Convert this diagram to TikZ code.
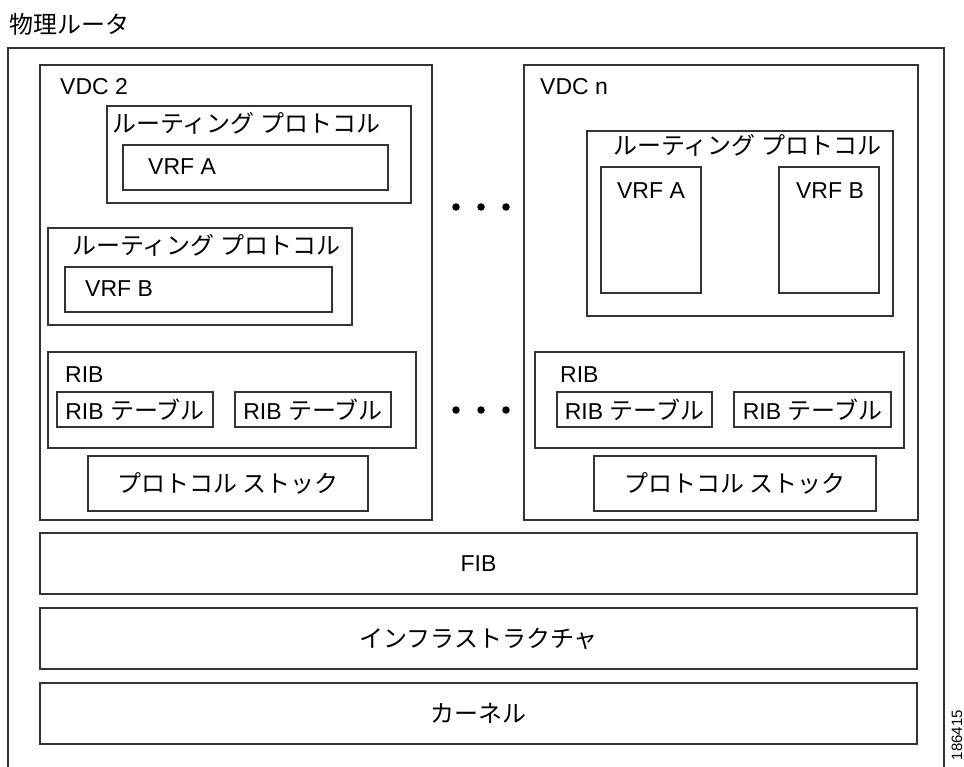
\documentclass[tikz,border=0pt]{standalone}
\usepackage{fontspec}
\setmainfont{Liberation Sans}
\newfontfamily\jpfam{Noto Sans CJK JP}
\newcommand\jp{\jpfam\fontsize{24}{28}\selectfont}
\usetikzlibrary{fit}
\begin{document}
\begin{tikzpicture}[x=1pt,y=-1pt,
  box/.style={draw=black!80, line width=1.1pt, inner sep=0pt, rectangle},
  lbl/.style={inner sep=0pt, font=\fontsize{23}{27}\selectfont},
  dot/.style={circle, fill=black, inner sep=0pt, minimum size=7.5pt}]
\useasboundingbox (0,0) rectangle (964,767);
\clip (0,0) rectangle (964,767);
\fill[white] (0,0) rectangle (964,767);
% title
\node[lbl, anchor=base west] (title) at (9,34) {\jp 物理ルータ};
% outer frame
\node[box, fit={(8,48) (944,790)}] (outer) {};
% VDC 2
\node[box, fit={(40,65) (432,520)}] (vdc2) {};
\node[lbl, anchor=base west] (vdc2l) at (60,95) {VDC 2};
\node[box, fit={(107,106) (411,203)}] (rp1) {};
\node[lbl, anchor=base west] (rp1l) at (112,133) {\jp ルーティング プロトコル};
\node[box, fit={(123,145) (388,190)}] (vrfa1) {};
\node[lbl, anchor=base west] (vrfa1l) at (148,175) {VRF A};
\node[box, fit={(48,228) (352,325)}] (rp2) {};
\node[lbl, anchor=base west] (rp2l) at (72,255) {\jp ルーティング プロトコル};
\node[box, fit={(65,267) (332,312)}] (vrfb1) {};
\node[lbl, anchor=base west] (vrfb1l) at (85,297) {VRF B};
\node[box, fit={(48,352) (416,448)}] (rib1) {};
\node[lbl, anchor=base west] (rib1l) at (65,382) {RIB};
\node[box, fit={(57,392) (213,427)}] (rt11) {};
\node[lbl] (rt11l) at (rt11.center) {RIB {\jp テーブル}};
\node[box, fit={(235,392) (391,427)}] (rt12) {};
\node[lbl] (rt12l) at (rt12.center) {RIB {\jp テーブル}};
\node[box, fit={(88,456) (368,511)}] (ps1) {};
\node[lbl] (ps1l) at (ps1.center) {\jp プロトコル ストック};
% VDC n
\node[box, fit={(524,65) (918,520)}] (vdcn) {};
\node[lbl, anchor=base west] (vdcnl) at (540,95) {VDC n};
\node[box, fit={(587,131) (893,316)}] (rpn) {};
\node[lbl, anchor=base west] (rpnl) at (613,155) {\jp ルーティング プロトコル};
\node[box, fit={(601,167) (701,293)}] (vrfan) {};
\node[lbl, anchor=base] (vrfanl) at (651,199) {VRF A};
\node[box, fit={(779,167) (879,293)}] (vrfbn) {};
\node[lbl, anchor=base] (vrfbnl) at (830,199) {VRF B};
\node[box, fit={(535,352) (904,448)}] (ribn) {};
\node[lbl, anchor=base west] (ribnl) at (560,382) {RIB};
\node[box, fit={(557,392) (712,427)}] (rtn1) {};
\node[lbl] (rtn1l) at (rtn1.center) {RIB {\jp テーブル}};
\node[box, fit={(734,392) (891,427)}] (rtn2) {};
\node[lbl] (rtn2l) at (rtn2.center) {RIB {\jp テーブル}};
\node[box, fit={(594,456) (876,511)}] (psn) {};
\node[lbl] (psnl) at (psn.center) {\jp プロトコル ストック};
% dots
\node[dot] (d1) at (456,207) {};
\node[dot] (d2) at (481,207) {};
\node[dot] (d3) at (506,207) {};
\node[dot] (d4) at (456,410) {};
\node[dot] (d5) at (481,410) {};
\node[dot] (d6) at (506,410) {};
% bottom layers
\node[box, fit={(40,533) (917,594)}] (fib) {};
\node[lbl] (fibl) at (fib.center) {FIB};
\node[box, fit={(40,608) (917,669)}] (infra) {};
\node[lbl] (infral) at (infra.center) {\jp インフラストラクチャ};
\node[box, fit={(40,683) (917,744)}] (kern) {};
\node[lbl] (kernl) at (kern.center) {\jp カーネル};
% figure number
\node[inner sep=0pt, rotate=90, anchor=base east, font=\fontsize{15}{18}\selectfont] (fignum) at (962,710) {186415};
\end{tikzpicture}
\end{document}
